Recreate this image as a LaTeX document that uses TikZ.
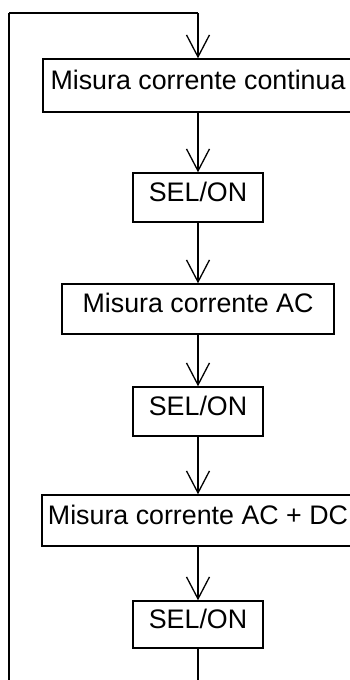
\documentclass[tikz,border=0pt]{standalone}
\usepackage{fontspec}
\setmainfont{Liberation Sans}
\usetikzlibrary{arrows.meta}
\begin{document}
\begin{tikzpicture}[x=1pt,y=-1pt,
  box/.style={draw, line width=1.4pt, inner sep=0pt,
    font=\fontsize{26.8}{30}\selectfont, text height=0.72em, text depth=0pt},
  flow/.style={line width=1.3pt, -{Straight Barb[length=22pt,width=23pt,line width=1.3pt]}},
  link/.style={line width=1.3pt}]
\useasboundingbox (0,0) rectangle (350,680);
\clip (0,0) rectangle (350,680);

% flow steps
\node[box, minimum width=310pt, minimum height=53pt] (b1) at (198,85.5) {Misura corrente continua};
\node[box, minimum width=130pt, minimum height=49pt] (s1) at (198,197.5) {SEL/ON};
\node[box, minimum width=272pt, minimum height=50pt] (b2) at (198,309) {Misura corrente AC};
\node[box, minimum width=130pt, minimum height=49pt] (s2) at (198,411.5) {SEL/ON};
\node[box, minimum width=312pt, minimum height=51pt] (b3) at (198,520.5) {Misura corrente AC + DC};
\node[box, minimum width=130pt, minimum height=47pt] (s3) at (198,624.5) {SEL/ON};

% return path of the loop
\coordinate (lb) at (198,700);
\coordinate (ll) at (9,700);
\coordinate (lt) at (9,13);
\coordinate (ct) at (198,13);

\draw[link] (s3.south) -- (lb) -- (ll);
\draw[line width=2pt] (ll) -- (lt);
\draw[link] (lt) -- (ct);
\draw[flow] (ct) -- (b1.north);

% arrows between steps
\draw[flow] (b1.south) -- (s1.north);
\draw[flow] (s1.south) -- (b2.north);
\draw[flow] (b2.south) -- (s2.north);
\draw[flow] (s2.south) -- (b3.north);
\draw[flow] (b3.south) -- (s3.north);
\end{tikzpicture}
\end{document}
